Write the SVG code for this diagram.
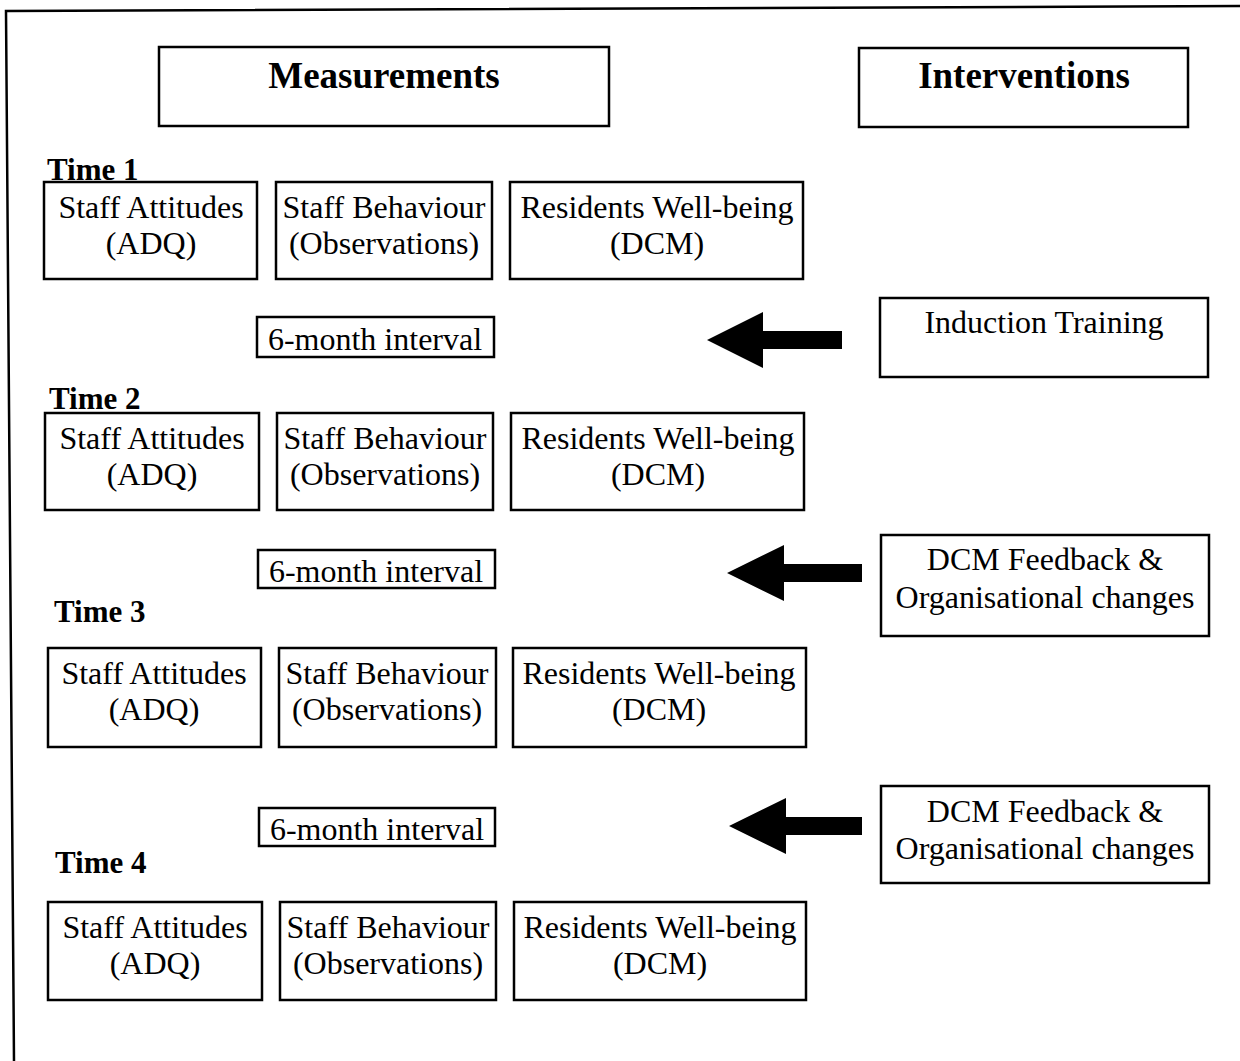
<svg xmlns="http://www.w3.org/2000/svg" width="1240" height="1061" viewBox="0 0 1240 1061">
<style>
.bx{fill:#fff;stroke:#000;stroke-width:2.5}
.t{font-family:"Liberation Serif","Times New Roman",serif;font-size:32px;fill:#000;text-anchor:middle}
.h{font-family:"Liberation Serif","Times New Roman",serif;font-size:37px;font-weight:bold;fill:#000;text-anchor:middle}
.tm{font-family:"Liberation Serif","Times New Roman",serif;font-size:31px;font-weight:bold;fill:#000}
.ar{fill:#000}
</style>
<rect width="1240" height="1061" fill="#fff"/>
<g id="frame" fill="none" stroke="#000" stroke-width="2.5">
<path d="M1240,6 L6,11 L14,1061"/>
</g>
<g id="header-measurements"><rect class="bx" x="159" y="47" width="450" height="79"/><text class="h" x="384" y="88">Measurements</text></g>
<g id="header-interventions"><rect class="bx" x="859" y="48" width="329" height="79"/><text class="h" x="1024" y="88">Interventions</text></g>

<g id="time1-label"><text class="tm" x="47" y="180">Time 1</text></g>
<g id="t1-attitudes"><rect class="bx" x="44" y="182" width="213" height="97"/><text class="t" x="151" y="218">Staff Attitudes</text><text class="t" x="151" y="254">(ADQ)</text></g>
<g id="t1-behaviour"><rect class="bx" x="276" y="182" width="216" height="97"/><text class="t" x="384" y="218">Staff Behaviour</text><text class="t" x="384" y="254">(Observations)</text></g>
<g id="t1-wellbeing"><rect class="bx" x="510" y="182" width="293" height="97"/><text class="t" x="657" y="218">Residents Well-being</text><text class="t" x="657" y="254">(DCM)</text></g>

<g id="interval1"><rect class="bx" x="257" y="317" width="237" height="40"/><text class="t" x="375" y="350">6-month interval</text></g>
<g id="induction"><rect class="bx" x="880" y="298" width="328" height="79"/><text class="t" x="1044" y="333">Induction Training</text></g>

<g id="time2-label"><text class="tm" x="49" y="409">Time 2</text></g>
<g id="t2-attitudes"><rect class="bx" x="45" y="413" width="214" height="97"/><text class="t" x="152" y="449">Staff Attitudes</text><text class="t" x="152" y="485">(ADQ)</text></g>
<g id="t2-behaviour"><rect class="bx" x="277" y="413" width="216" height="97"/><text class="t" x="385" y="449">Staff Behaviour</text><text class="t" x="385" y="485">(Observations)</text></g>
<g id="t2-wellbeing"><rect class="bx" x="511" y="413" width="293" height="97"/><text class="t" x="658" y="449">Residents Well-being</text><text class="t" x="658" y="485">(DCM)</text></g>

<g id="interval2"><rect class="bx" x="258" y="550" width="237" height="38"/><text class="t" x="376" y="582">6-month interval</text></g>
<g id="feedback1"><rect class="bx" x="881" y="535" width="328" height="101"/><text class="t" x="1045" y="570">DCM Feedback &amp;</text><text class="t" x="1045" y="608">Organisational changes</text></g>

<g id="time3-label"><text class="tm" x="54" y="622">Time 3</text></g>
<g id="t3-attitudes"><rect class="bx" x="48" y="648" width="213" height="99"/><text class="t" x="154" y="684">Staff Attitudes</text><text class="t" x="154" y="720">(ADQ)</text></g>
<g id="t3-behaviour"><rect class="bx" x="279" y="648" width="217" height="99"/><text class="t" x="387" y="684">Staff Behaviour</text><text class="t" x="387" y="720">(Observations)</text></g>
<g id="t3-wellbeing"><rect class="bx" x="513" y="648" width="293" height="99"/><text class="t" x="659" y="684">Residents Well-being</text><text class="t" x="659" y="720">(DCM)</text></g>

<g id="interval3"><rect class="bx" x="259" y="808" width="236" height="38"/><text class="t" x="377" y="840">6-month interval</text></g>
<g id="feedback2"><rect class="bx" x="881" y="786" width="328" height="97"/><text class="t" x="1045" y="822">DCM Feedback &amp;</text><text class="t" x="1045" y="859">Organisational changes</text></g>

<g id="time4-label"><text class="tm" x="55" y="873">Time 4</text></g>
<g id="t4-attitudes"><rect class="bx" x="48" y="902" width="214" height="98"/><text class="t" x="155" y="938">Staff Attitudes</text><text class="t" x="155" y="974">(ADQ)</text></g>
<g id="t4-behaviour"><rect class="bx" x="280" y="902" width="216" height="98"/><text class="t" x="388" y="938">Staff Behaviour</text><text class="t" x="388" y="974">(Observations)</text></g>
<g id="t4-wellbeing"><rect class="bx" x="514" y="902" width="292" height="98"/><text class="t" x="660" y="938">Residents Well-being</text><text class="t" x="660" y="974">(DCM)</text></g>

<g id="connectors">
<path class="ar" d="M707,340 L763,312 L763,331 L842,331 L842,349 L763,349 L763,368 Z"/>
<path class="ar" d="M727,573 L784,545 L784,564 L862,564 L862,582 L784,582 L784,601 Z"/>
<path class="ar" d="M729,826 L786,798 L786,817 L862,817 L862,835 L786,835 L786,854 Z"/>
</g>
</svg>
